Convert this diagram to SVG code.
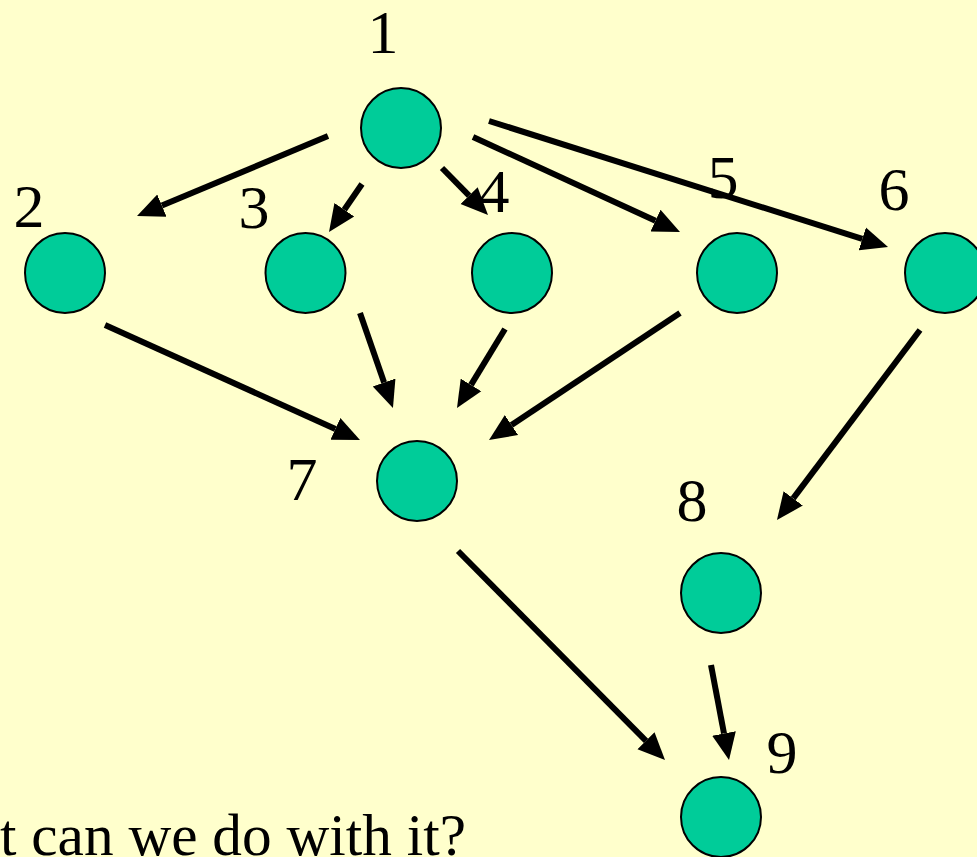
<svg xmlns="http://www.w3.org/2000/svg" width="977" height="857" viewBox="0 0 977 857">
<style>
text{font-family:'Liberation Serif','Times New Roman','DejaVu Serif',serif;fill:#000}
.n{fill:#00CC99;stroke:#000;stroke-width:2}
.l{font-size:62px;text-anchor:middle}
.e{stroke:#000;stroke-width:6;fill:none;marker-end:url(#ah)}
</style>
<defs>
<marker id="ah" markerUnits="userSpaceOnUse" markerWidth="28" markerHeight="26" viewBox="0 -13 28 26" refX="0" refY="0" orient="auto">
<path d="M0,-12 L27,0 L0,12 z" fill="#000"/>
</marker>
</defs>
<rect width="977" height="857" fill="#FFFFCC"/>
<g id="connectors">
<line class="e" x1="328" y1="136" x2="161.9" y2="205.6"/>
<line class="e" x1="362" y1="184" x2="344.3" y2="209.7"/>
<line class="e" x1="442" y1="168" x2="469.1" y2="195.7"/>
<line class="e" x1="473" y1="137" x2="655.5" y2="220.7"/>
<line class="e" x1="489" y1="121" x2="862.3" y2="238.9"/>
<line class="e" x1="105" y1="325" x2="335.4" y2="428.9"/>
<line class="e" x1="360" y1="313" x2="384.1" y2="382.5"/>
<line class="e" x1="505" y1="329" x2="471" y2="384.9"/>
<line class="e" x1="680" y1="313" x2="511.5" y2="425"/>
<line class="e" x1="920" y1="330" x2="793.2" y2="498.4"/>
<line class="e" x1="458" y1="551" x2="646" y2="740.8"/>
<line class="e" x1="711" y1="665" x2="724" y2="733.5"/>
</g>
<g id="node1"><circle class="n" cx="401" cy="128" r="40"/><text class="l" x="383" y="53">1</text></g>
<g id="node2"><circle class="n" cx="65" cy="273" r="40"/><text class="l" x="29" y="227">2</text></g>
<g id="node3"><circle class="n" cx="305.5" cy="273" r="40"/><text class="l" x="254" y="228">3</text></g>
<g id="node4"><circle class="n" cx="512" cy="273" r="40"/><text class="l" x="494" y="212">4</text></g>
<g id="node5"><circle class="n" cx="737" cy="273" r="40"/><text class="l" x="723" y="198">5</text></g>
<g id="node6"><circle class="n" cx="945" cy="273" r="40"/><text class="l" x="894" y="210">6</text></g>
<g id="node7"><circle class="n" cx="417" cy="481" r="40"/><text class="l" x="302" y="500">7</text></g>
<g id="node8"><circle class="n" cx="721" cy="593" r="40"/><text class="l" x="692" y="521">8</text></g>
<g id="node9"><circle class="n" cx="721" cy="817" r="40"/><text class="l" x="782" y="773">9</text></g>
<text x="0" y="855" font-size="60" textLength="466" lengthAdjust="spacingAndGlyphs">t can we do with it?</text>
</svg>
